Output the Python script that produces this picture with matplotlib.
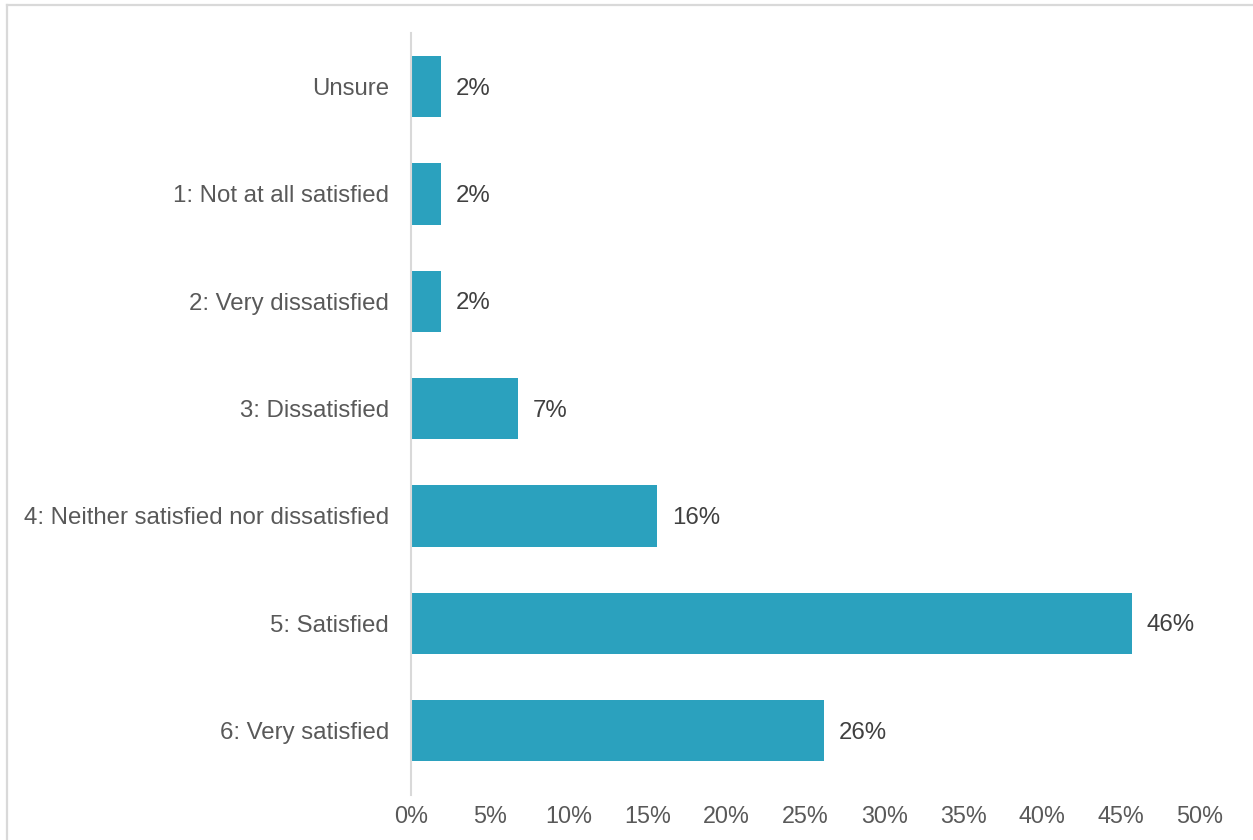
import matplotlib.pyplot as plt
from matplotlib.lines import Line2D

plt.rcParams['font.family'] = ['Liberation Sans', 'DejaVu Sans']

# Respuestas, de abajo hacia arriba
categorias = ['6: Very satisfied', '5: Satisfied', '4: Neither satisfied nor dissatisfied',
              '3: Dissatisfied', '2: Very dissatisfied', '1: Not at all satisfied', 'Unsure']
porcentajes = [26.2, 45.7, 15.6, 6.8, 1.9, 1.9, 1.9]
ticks_x = [0, 5, 10, 15, 20, 25, 30, 35, 40, 45, 50]

fig = plt.figure(figsize=(12.53, 8.4), dpi=100)
ax = fig.add_axes([0.328, 0.0536, 0.6297, 0.9071])

y = list(range(len(categorias)))
barras = ax.barh(y, porcentajes, height=0.57, color='#2BA1BE')

# Etiquetas de valor al final de cada barra
for yi, v in zip(y, porcentajes):
    ax.annotate(f'{v:.0f}%', xy=(v, yi), xytext=(10.5, -1.5), textcoords='offset points',
                va='center', ha='left', fontsize=17.3, color='#404040')

ax.set_xlim(0, 50)
ax.set_ylim(-0.6, 6.5)
ax.set_yticks(y)
ax.set_yticklabels(categorias)
ax.set_xticks(ticks_x)
ax.set_xticklabels([f'{t}%' for t in ticks_x])
ax.tick_params(axis='y', length=0, pad=16, labelsize=17.3, labelcolor='#595959')
ax.tick_params(axis='x', length=0, pad=7, labelsize=16.8, labelcolor='#595959')

for lado in ['top', 'right', 'bottom']:
    ax.spines[lado].set_visible(False)
ax.spines['left'].set_color('#D9D9D9')
ax.spines['left'].set_linewidth(1.5)

# Marco exterior (solo arriba e izquierda quedan dentro de la imagen)
fig.add_artist(Line2D([0.0052, 1.0], [0.9946, 0.9946], color='#D9D9D9', lw=1.6,
                      transform=fig.transFigure))
fig.add_artist(Line2D([0.0052, 0.0052], [0.0, 0.9946], color='#D9D9D9', lw=1.6,
                      transform=fig.transFigure))

fig.savefig('out.png', dpi=100)
